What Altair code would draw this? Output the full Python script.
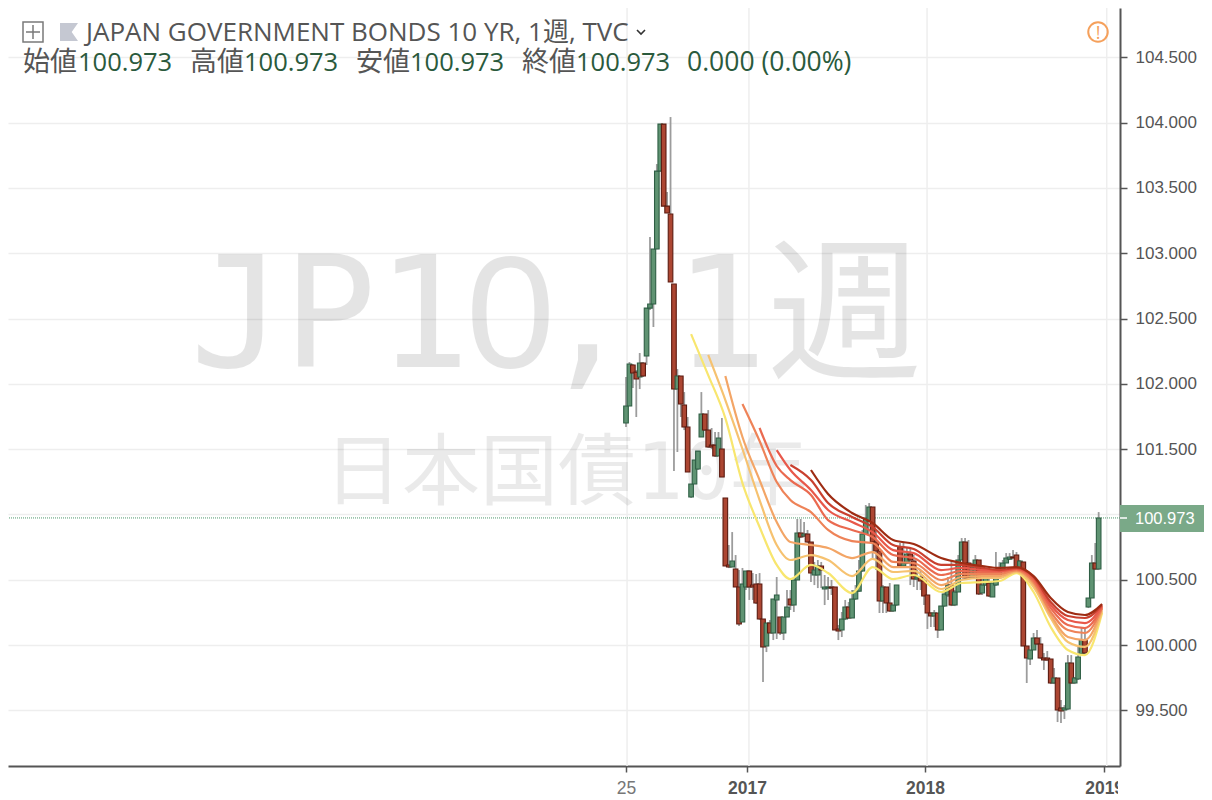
import altair as alt
import pandas as pd

# ---- OHLC, one entry per week ----
opens = [101.700,101.830,102.144,102.090,102.052,102.159,102.213,102.580,102.611,103.032,103.629,103.989,103.361,103.300,102.764,101.960,102.060,101.838,101.669,101.133,
101.233,101.348,101.593,101.769,101.646,101.531,101.531,101.447,101.501,101.126,100.613,100.597,100.582,100.444,100.176,100.444,100.567,100.459,100.467,100.467,
100.199,99.992,100.168,100.092,100.345,100.214,100.092,100.214,100.352,100.306,100.498,100.858,100.835,100.850,100.789,100.536,100.536,100.605,100.429,100.436,
100.444,100.444,100.123,100.115,100.199,100.291,100.207,100.352,100.413,100.567,100.850,100.949,101.057,100.789,100.720,100.337,100.444,100.322,100.260,100.306,
100.750,100.605,100.628,100.697,100.643,100.505,100.521,100.490,100.383,100.245,100.222,100.245,100.115,100.299,100.383,100.459,100.306,100.406,100.651,100.789,
100.628,100.513,100.536,100.651,100.398,100.459,100.475,100.368,100.459,100.536,100.574,100.628,100.658,100.674,100.689,100.590,100.636,99.992,99.893,99.962,
100.054,100.008,99.900,99.900,99.893,99.709,99.747,99.518,99.502,99.510,99.862,99.709,99.740,99.931,100.038,100.291,100.360,100.628,100.582]
highs = [102.052,102.167,102.152,102.106,102.236,102.167,102.580,103.124,103.032,103.683,103.989,103.989,103.469,104.043,102.764,102.113,102.060,101.937,101.746,101.233,
101.417,101.485,101.937,101.769,101.799,101.662,101.631,101.631,101.738,101.126,100.766,100.865,100.689,100.574,100.590,100.567,100.574,100.551,100.544,100.551,
100.199,100.168,100.191,100.352,100.521,100.214,100.214,100.421,100.421,100.498,100.965,100.965,100.942,100.881,100.789,100.636,100.651,100.636,100.536,100.521,
100.498,100.444,100.153,100.253,100.345,100.329,100.421,100.459,100.651,100.881,101.072,101.087,101.057,100.881,100.720,100.459,100.444,100.475,100.306,100.459,
100.781,100.781,100.743,100.743,100.689,100.574,100.574,100.505,100.383,100.253,100.268,100.245,100.299,100.421,100.521,100.651,100.421,100.689,100.819,100.819,
100.804,100.628,100.689,100.651,100.513,100.574,100.536,100.475,100.712,100.635,100.651,100.704,100.704,100.727,100.712,100.651,100.636,99.992,99.962,100.092,
100.115,100.061,99.939,99.954,99.893,99.824,99.747,99.579,99.540,99.923,99.923,99.755,99.985,100.130,100.130,100.360,100.689,100.781,101.018]
lows = [101.669,101.830,101.968,101.746,101.960,102.052,102.144,102.565,102.435,103.032,103.629,103.361,103.308,102.780,101.332,101.478,101.746,101.646,101.325,101.126,
101.233,101.340,101.593,101.639,101.509,101.501,101.440,101.447,101.286,100.605,100.589,100.597,100.444,100.145,100.176,100.421,100.345,100.345,100.314,100.191,
99.717,99.946,100.092,100.038,100.046,100.077,100.038,100.214,100.268,100.253,100.498,100.819,100.827,100.781,100.482,100.459,100.436,100.436,100.306,100.345,
100.383,100.115,100.038,100.061,100.191,100.199,100.207,100.345,100.406,100.559,100.842,100.942,100.651,100.574,100.245,100.245,100.245,100.253,100.253,100.298,
100.605,100.597,100.620,100.459,100.444,100.421,100.421,100.306,100.123,100.138,100.138,100.054,100.115,100.291,100.368,100.298,100.298,100.406,100.651,100.498,
100.513,100.513,100.513,100.383,100.383,100.452,100.368,100.368,100.452,100.528,100.574,100.628,100.651,100.666,100.590,100.582,99.992,99.709,99.847,99.962,
100.000,99.893,99.809,99.877,99.701,99.701,99.410,99.403,99.433,99.502,99.701,99.701,99.732,99.923,99.931,100.283,100.360,100.574,100.574]
closes = [101.830,102.152,102.083,102.037,102.159,102.060,102.580,102.611,103.032,103.629,103.989,103.361,103.308,102.780,101.960,102.060,101.845,101.669,101.325,101.233,
101.417,101.485,101.769,101.646,101.516,101.516,101.447,101.585,101.286,100.605,100.597,100.643,100.444,100.161,100.467,100.567,100.444,100.444,100.322,100.199,
99.985,100.168,100.092,100.352,100.383,100.092,100.214,100.291,100.306,100.498,100.858,100.827,100.850,100.789,100.551,100.574,100.605,100.574,100.444,100.444,
100.436,100.115,100.107,100.199,100.291,100.207,100.352,100.413,100.567,100.850,100.972,101.057,100.789,100.720,100.337,100.444,100.322,100.260,100.306,100.459,
100.605,100.628,100.697,100.651,100.505,100.521,100.490,100.375,100.245,100.222,100.245,100.115,100.299,100.391,100.459,100.306,100.406,100.651,100.789,100.513,
100.513,100.590,100.651,100.391,100.459,100.551,100.375,100.475,100.559,100.590,100.628,100.666,100.674,100.666,100.597,100.643,99.992,99.900,99.962,100.054,
100.008,99.900,99.885,99.885,99.709,99.747,99.502,99.495,99.518,99.862,99.709,99.747,99.908,100.038,99.939,100.360,100.628,100.582,100.973]

# ---- eight moving-average ribbons, sampled at these weeks ----
ribbon_weeks = [19,24,29,34,39,44,48,54,59,66,72,78,84,92,98,104,109,114,119,124,129,134,139]
ribbon_1 = [102.381,102.067,101.738,101.240,100.904,100.613,100.505,100.613,100.551,100.398,100.597,100.505,100.536,100.406,100.475,100.482,100.490,100.551,100.406,100.138,99.962,99.923,100.245]
ribbon_2 = [102.221,101.876,101.501,101.110,100.766,100.651,100.689,100.651,100.528,100.659,100.559,100.567,100.429,100.498,100.513,100.513,100.559,100.444,100.207,100.023,99.985,100.260]
ribbon_3 = [102.060,101.593,101.263,100.942,100.789,100.766,100.743,100.666,100.712,100.597,100.597,100.459,100.521,100.528,100.528,100.567,100.467,100.230,100.061,100.038,100.276]
ribbon_4 = [101.845,101.562,101.248,101.110,101.018,100.881,100.796,100.781,100.636,100.628,100.498,100.544,100.544,100.544,100.574,100.482,100.253,100.115,100.092,100.283]
ribbon_5 = [101.662,101.371,101.263,101.149,100.957,100.881,100.827,100.689,100.666,100.536,100.567,100.559,100.559,100.582,100.498,100.283,100.153,100.130,100.291]
ribbon_6 = [101.493,101.340,101.187,101.034,100.942,100.865,100.727,100.704,100.574,100.590,100.574,100.567,100.582,100.513,100.306,100.191,100.168,100.299]
ribbon_7 = [101.378,101.263,101.087,100.980,100.904,100.766,100.735,100.613,100.613,100.590,100.574,100.590,100.521,100.329,100.222,100.207,100.306]
ribbon_8 = [101.340,101.156,101.011,100.934,100.804,100.773,100.666,100.628,100.605,100.590,100.597,100.528,100.360,100.253,100.230,100.314]
ribbons = [ribbon_1,ribbon_2,ribbon_3,ribbon_4,ribbon_5,ribbon_6,ribbon_7,ribbon_8]
ribbon_colors = ["#f8e66f","#f6c270","#f3a566","#ee8358","#ea6a50","#e8584a","#c9402f","#9e2c13"]

# ---- axes and text ----
price_ticks = [99.5,100.0,100.5,101.0,101.5,102.0,102.5,103.0,103.5,104.0,104.5]
week_ticks = [0,35.3,87.3,139.6]
week_labels = ["25","2017","2018","2019"]
grid_weeks = [0.3,35.9,87.9,140.35]
last_price = 100.973
title_text = "JAPAN GOVERNMENT BONDS 10 YR, 1週, TVC"
ohlc_names = ["始値","高値","安値","終値"]
ohlc_value = "100.973"
change_text = "0.000 (0.00%)"

FONT = "Open Sans, Noto Sans CJK JP"
AX = "Liberation Sans"
MONO = "DejaVu Sans Mono, Noto Sans CJK JP"
one = pd.DataFrame({"a":[0]})

xs = alt.Scale(domain=[-180.44,144.23], nice=False, zero=False, padding=0)
ys = alt.Scale(domain=[99.0735,104.878], nice=False, zero=False)

label_expr = "[" + ",".join(f"'{s}'" for s in week_labels) + "][indexof([" + ",".join(str(t) for t in week_ticks) + "],datum.value)]"
x_axis = alt.Axis(
    values=week_ticks, labelExpr=label_expr, grid=False, title=None, domainColor="#555555", domainWidth=2,
    tickColor="#555555", tickWidth=1.5, tickSize=6, labelFont=AX, labelFontSize=17.5, labelPadding=7,
    labelOffset=0, labelOverlap=False, labelFlush=False,
    labelFontWeight={"condition":{"test":"datum.value>1","value":"bold"},"value":"normal"},
    labelColor={"condition":{"test":"datum.value>1","value":"#555555"},"value":"#777777"})
y_axis = alt.Axis(
    orient="right", values=price_ticks, labelExpr=f"datum.value=={int(round(last_price))}?'':format(datum.value,'.3f')",
    grid=True, title=None, gridColor="#eeeeee", gridWidth=1.5,
    domainColor="#555555", domainWidth=2, tickColor="#555555", tickWidth=1.5, tickSize=7,
    labelFont=AX, labelFontSize=17, labelColor="#555555", labelPadding=8)
X = alt.X("week:Q", scale=xs, axis=x_axis)

candles = pd.DataFrame({"week":range(len(closes)),"open":opens,"high":highs,"low":lows,"close":closes})
candles["up"] = candles["close"] >= candles["open"]
rows = []
for k, vals in enumerate(ribbons):
    for w, v in zip(ribbon_weeks[k:], vals):
        rows.append({"week":w,"price":v,"line":k})
rib = pd.DataFrame(rows)

def txt(s, x, y, size, color, font=FONT, weight="normal", align="left", opacity=1):
    return alt.Chart(one).mark_text(text=s, fontSize=size, color=color, font=font, fontWeight=weight, opacity=opacity,
                                    align=align, baseline="alphabetic").encode(x=alt.value(x-8), y=alt.value(y-8))

def sym(shape, x, y, size, stroke=None, fill=None, sw=1.5):
    kw = {"shape":shape, "size":size, "opacity":1}
    if fill:
        kw.update(filled=True, fill=fill, strokeWidth=0)
    else:
        kw.update(filled=False, stroke=stroke, strokeWidth=sw)
    return alt.Chart(one).mark_point(**kw).encode(x=alt.value(x-8), y=alt.value(y-8))

vgrid = alt.Chart(pd.DataFrame({"week":grid_weeks})).mark_rule(color="#eeeeee", strokeWidth=1.5).encode(x=X)
price_line = alt.Chart(pd.DataFrame({"price":[last_price]})).mark_rule(color="#4f9a6e", strokeWidth=1, strokeDash=[1,1]).encode(
    y=alt.Y("price:Q", scale=ys, axis=y_axis))
wicks = alt.Chart(candles).mark_rule(color="#9c9c9c", strokeWidth=1.8).encode(
    x=X, y=alt.Y("low:Q", scale=ys, axis=y_axis), y2="high:Q")
bodies = alt.Chart(candles).mark_bar(size=4.6, strokeWidth=1.1).encode(
    x=X, y=alt.Y("open:Q", scale=ys, axis=y_axis), y2="close:Q",
    fill=alt.Fill("up:N", scale=alt.Scale(domain=[True,False], range=["#5f9372","#ac4632"]), legend=None),
    stroke=alt.Stroke("up:N", scale=alt.Scale(domain=[True,False], range=["#2e5e44","#5c1b10"]), legend=None))
lines = alt.Chart(rib).mark_line(strokeWidth=2.2, interpolate="monotone").encode(
    x=X, y=alt.Y("price:Q", scale=ys, axis=y_axis),
    color=alt.Color("line:N", scale=alt.Scale(domain=list(range(8)), range=ribbon_colors), legend=None),
    order="week:Q")

layers = [vgrid, price_line,
          txt("JP1", 190, 367, 155, "#000000", font=MONO, opacity=0.1),
          txt("0", 466, 367, 160, "#000000", font=AX, opacity=0.1),
          txt(",", 540, 367, 155, "#000000", font=MONO, opacity=0.1),
          txt("1週", 674, 367, 155, "#000000", font=MONO, opacity=0.1),
          txt("日本国債10年", 324, 499, 78, "#000000", font=MONO, opacity=0.08),
          wicks, bodies, lines]

# header
layers += [sym("square", 33, 32, 400, stroke="#7a7a7a"), sym("M-1,0L1,0M0,-1L0,1", 33, 32, 196, stroke="#7a7a7a"),
           sym("M-1,-1L1,-1L0.3,0L1,1L-1,1Z", 69, 32, 324, fill="#c5c8d2"),
           txt(title_text, 86, 41, 26, "#555555"),
           sym("M-1,-0.5L0,0.5L1,-0.5", 641, 32, 64, stroke="#333333", sw=1.6)]
for name, xa, xb in zip(ohlc_names, [23,190,356,522], [78,244,410,576]):
    layers += [txt(name, xa, 71, 27, "#555555"), txt(ohlc_value, xb, 71, 25.5, "#2a5a3c")]
layers.append(txt(change_text, 687, 71, 26.5, "#2a5a3c"))
layers += [sym("circle", 1098, 32, 380, stroke="#f5a05b", sw=2), txt("!", 1098, 39, 18, "#f5a05b", align="center")]

# last price tag and clipped corner
layers += [
    alt.Chart(one).mark_rect(color="#7aa988").encode(x=alt.value(1112), x2=alt.value(1202), y=alt.value(497), y2=alt.value(524)),
    alt.Chart(one).mark_rule(color="#ffffff", strokeWidth=1.5).encode(x=alt.value(1112), x2=alt.value(1119), y=alt.value(510)),
    txt("100.973", 1135, 524, 16.5, "#ffffff", font=AX),
    alt.Chart(one).mark_rect(color="#ffffff").encode(x=alt.value(1110), x2=alt.value(1130), y=alt.value(766), y2=alt.value(792)),
]

chart = alt.layer(*layers).properties(
    width=1112, height=758, padding={"left":0,"top":0,"right":84,"bottom":30},
    autosize=alt.AutoSizeParams(type="none"), background="white"
).configure_view(stroke=None).resolve_scale(color="independent", fill="independent", stroke="independent")

chart.save("out.html", embed_options={"renderer":"svg","actions":False})
